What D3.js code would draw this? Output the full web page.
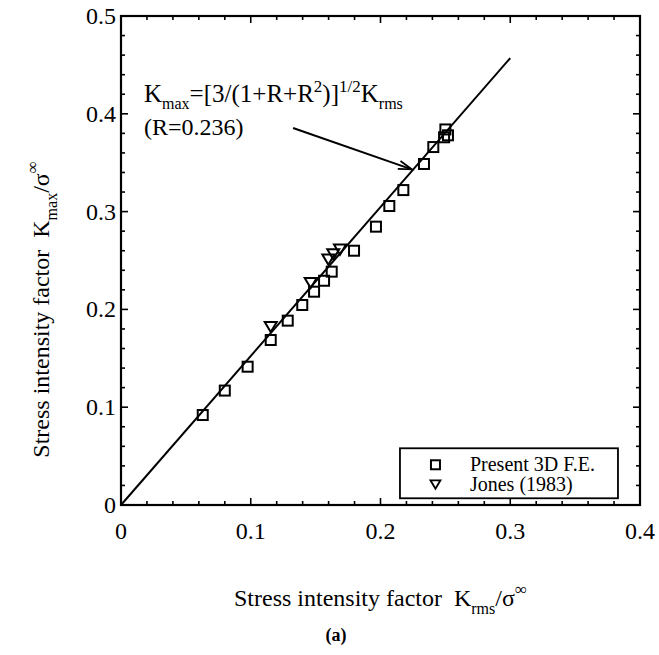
<!DOCTYPE html>
<html>
<head>
<meta charset="utf-8">
<script src="https://cdn.jsdelivr.net/npm/d3@7"></script>
<style>
	body { margin: 0; background: #fff; }
	svg { display: block; }
	text { font-family: "Liberation Serif", "DejaVu Serif", serif; fill: #000; }
</style>
</head>
<body>
<div id="chart"></div>
<script>
// Present 3D F.E. results (squares)
var feX = [0.063, 0.080, 0.0976, 0.1154, 0.1285, 0.1397, 0.1488, 0.1565, 0.1624, 0.1796, 0.1965, 0.2068, 0.2176, 0.2335, 0.2407, 0.249, 0.250, 0.252];
var feY = [0.092, 0.117, 0.1414, 0.1687, 0.1885, 0.2045, 0.2181, 0.2293, 0.2386, 0.260, 0.2846, 0.3057, 0.322, 0.3487, 0.366, 0.376, 0.384, 0.378];

// Jones (1983) (down triangles)
var jonesX = [0.1154, 0.1462, 0.1598, 0.1636, 0.1688];
var jonesY = [0.1823, 0.2273, 0.2512, 0.2566, 0.2614];

// Kmax = [3/(1+R+R^2)]^(1/2) Krms line, R = 0.236
var fitX = [0, 0.3];
var fitY = [0, 0.457];

// annotation arrow (tail, tip)
var arrowX = [0.1326, 0.2241];
var arrowY = [0.3855, 0.3432];

var xTicks = [0, 0.1, 0.2, 0.3, 0.4];
var yTicks = [0, 0.1, 0.2, 0.3, 0.4, 0.5];
var minorStep = 0.02;

var W = 659, H = 655;
var margin = {top: 16, right: 19, bottom: 150, left: 121};
var width = W - margin.left - margin.right,
	height = H - margin.top - margin.bottom;

var svg = d3.select('#chart').append('svg')
	.attr('width', W)
	.attr('height', H);

var cont = svg.append('g')
	.attr('transform', 'translate(' + margin.left + ',' + margin.top + ')');

var x = d3.scaleLinear().domain([0, 0.4]).range([0, width]);
var y = d3.scaleLinear().domain([0, 0.5]).range([height, 0]);

var fmt = function(d) { return d === 0 ? '0' : d3.format('.1f')(d); };

// minor ticks every 0.02, inward on all four sides
var xMinor = d3.range(0, 0.4001, minorStep);
var yMinor = d3.range(0, 0.5001, minorStep);

function isMajor(v) { return Math.abs(v * 10 - Math.round(v * 10)) < 1e-6; }

var ticks = cont.append('g').attr('stroke', '#000').attr('stroke-width', 1.6);
xMinor.forEach(function(v) {
	var len = isMajor(v) ? 7 : 4;
	ticks.append('line').attr('x1', x(v)).attr('x2', x(v)).attr('y1', height).attr('y2', height - len);
	ticks.append('line').attr('x1', x(v)).attr('x2', x(v)).attr('y1', 0).attr('y2', len);
});
yMinor.forEach(function(v) {
	var len = isMajor(v) ? 7 : 4;
	ticks.append('line').attr('y1', y(v)).attr('y2', y(v)).attr('x1', 0).attr('x2', len);
	ticks.append('line').attr('y1', y(v)).attr('y2', y(v)).attr('x1', width).attr('x2', width - len);
});

// frame
cont.append('rect')
	.attr('x', 0).attr('y', 0)
	.attr('width', width).attr('height', height)
	.attr('fill', 'none')
	.attr('stroke', '#000')
	.attr('stroke-width', 2.2);

// tick labels
cont.selectAll('text.xlab')
	.data(xTicks).enter()
	.append('text')
		.attr('class', 'xlab')
		.attr('x', function(d) { return x(d); })
		.attr('y', height + 34)
		.attr('text-anchor', 'middle')
		.style('font-size', '24px')
		.text(fmt);

cont.selectAll('text.ylab')
	.data(yTicks).enter()
	.append('text')
		.attr('class', 'ylab')
		.attr('x', -5)
		.attr('y', function(d) { return y(d) + 8; })
		.attr('text-anchor', 'end')
		.style('font-size', '24px')
		.text(fmt);

// fit line
var line = d3.line()
	.x(function(d) { return x(d[0]); })
	.y(function(d) { return y(d[1]); });

cont.append('path')
	.datum(d3.zip(fitX, fitY))
	.attr('d', line)
	.attr('fill', 'none')
	.attr('stroke', '#000')
	.attr('stroke-width', 2);

// squares
var sq = 10;
cont.selectAll('rect.fe')
	.data(d3.zip(feX, feY)).enter()
	.append('rect')
		.attr('class', 'fe')
		.attr('x', function(d) { return x(d[0]) - sq / 2; })
		.attr('y', function(d) { return y(d[1]) - sq / 2; })
		.attr('width', sq)
		.attr('height', sq)
		.attr('fill', 'none')
		.attr('stroke', '#000')
		.attr('stroke-width', 2);

// down triangles
var tri = function(cx, cy, s) {
	return 'M' + (cx - s) + ',' + (cy - s * 0.8) + 'L' + (cx + s) + ',' + (cy - s * 0.8) + 'L' + cx + ',' + (cy + s * 0.9) + 'Z';
};
cont.selectAll('path.jones')
	.data(d3.zip(jonesX, jonesY)).enter()
	.append('path')
		.attr('class', 'jones')
		.attr('d', function(d) { return tri(x(d[0]), y(d[1]), 6); })
		.attr('fill', 'none')
		.attr('stroke', '#000')
		.attr('stroke-width', 2);

// annotation arrow
var ax0 = x(arrowX[0]), ay0 = y(arrowY[0]), ax1 = x(arrowX[1]), ay1 = y(arrowY[1]);
var ang = Math.atan2(ay1 - ay0, ax1 - ax0);
var head = 14, spread = 0.3;
cont.append('line')
	.attr('x1', ax0).attr('y1', ay0).attr('x2', ax1).attr('y2', ay1)
	.attr('stroke', '#000').attr('stroke-width', 2);
cont.append('path')
	.attr('d', 'M' + (ax1 - head * Math.cos(ang - spread)) + ',' + (ay1 - head * Math.sin(ang - spread)) +
		'L' + ax1 + ',' + ay1 +
		'L' + (ax1 - head * Math.cos(ang + spread)) + ',' + (ay1 - head * Math.sin(ang + spread)))
	.attr('fill', 'none').attr('stroke', '#000').attr('stroke-width', 1.8);

// annotation text
var ann = cont.append('text')
	.attr('x', 23)
	.attr('y', 86)
	.style('font-size', '25px');
ann.append('tspan').text('K');
ann.append('tspan').attr('dy', 7).style('font-size', '16px').text('max');
ann.append('tspan').attr('dy', -7).text('=[3/(1+R+R');
ann.append('tspan').attr('dy', -10).style('font-size', '17px').text('2');
ann.append('tspan').attr('dy', 10).text(')]');
ann.append('tspan').attr('dy', -10).style('font-size', '17px').text('1/2');
ann.append('tspan').attr('dy', 10).text('K');
ann.append('tspan').attr('dy', 7).style('font-size', '16px').text('rms');

cont.append('text')
	.attr('x', 23)
	.attr('y', 119)
	.style('font-size', '24px')
	.text('(R=0.236)');

// legend
var legend = cont.append('g').attr('transform', 'translate(' + (x(0.215) ) + ',' + (y(0.058)) + ')');
legend.append('rect')
	.attr('x', 0).attr('y', 0)
	.attr('width', 218).attr('height', 50)
	.attr('fill', '#fff')
	.attr('stroke', '#000')
	.attr('stroke-width', 1.8);
legend.append('rect')
	.attr('x', 31).attr('y', 12)
	.attr('width', 9).attr('height', 9)
	.attr('fill', 'none').attr('stroke', '#000').attr('stroke-width', 2);
legend.append('path')
	.attr('d', tri(35.5, 36, 5))
	.attr('fill', 'none').attr('stroke', '#000').attr('stroke-width', 1.8);
legend.append('text')
	.attr('x', 70).attr('y', 23)
	.style('font-size', '20px')
	.text('Present 3D F.E.');
legend.append('text')
	.attr('x', 70).attr('y', 43)
	.style('font-size', '20px')
	.text('Jones (1983)');

// x axis title
var xt = svg.append('text')
	.attr('x', margin.left + x(0.2))
	.attr('y', 606)
	.attr('text-anchor', 'middle')
	.style('font-size', '24px');
xt.append('tspan').text('Stress intensity factor\u00a0\u00a0K');
xt.append('tspan').attr('dy', 8).style('font-size', '16px').text('rms');
xt.append('tspan').attr('dy', -8).text('/\u03c3');
xt.append('tspan').attr('dy', -11).style('font-size', '17px').text('\u221e');

// y axis title
var yt = svg.append('text')
	.attr('transform', 'translate(49,' + (margin.top + y(0.2)) + ') rotate(-90)')
	.attr('text-anchor', 'middle')
	.style('font-size', '24px');
yt.append('tspan').text('Stress intensity factor\u00a0\u00a0K');
yt.append('tspan').attr('dy', 8).style('font-size', '16px').text('max');
yt.append('tspan').attr('dy', -8).text('/\u03c3');
yt.append('tspan').attr('dy', -11).style('font-size', '17px').text('\u221e');

// caption
svg.append('text')
	.attr('x', 336)
	.attr('y', 641)
	.attr('text-anchor', 'middle')
	.style('font-size', '18px')
	.style('font-weight', 'bold')
	.text('(a)');
</script>
</body>
</html>
